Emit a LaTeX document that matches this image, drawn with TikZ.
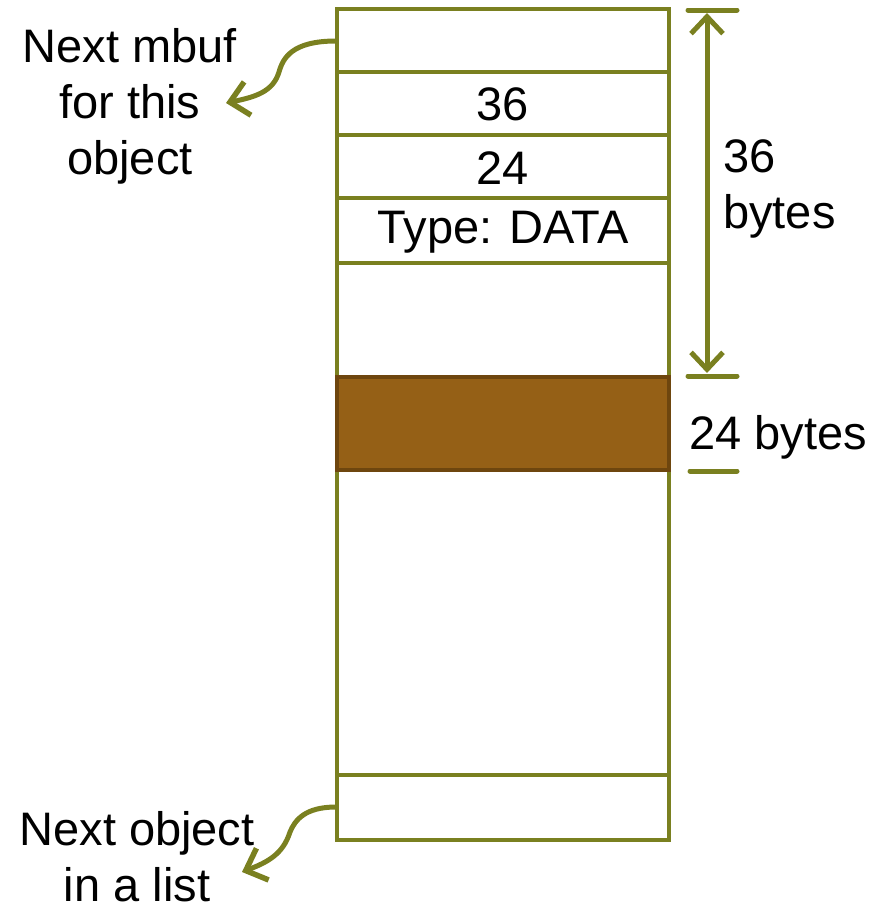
\documentclass[tikz,border=0pt]{standalone}
\usepackage{fontspec}
\setmainfont{Liberation Sans}
\usetikzlibrary{arrows.meta}
\definecolor{olive}{RGB}{122,128,32}
\definecolor{brownfill}{RGB}{149,96,22}
\definecolor{brownline}{RGB}{110,70,14}
\tikzset{
  wall/.style={draw=olive,line width=4pt},
  dim/.style={draw=olive,line width=5pt,line cap=round},
  barb/.tip={Straight Barb[length=17pt,width=32pt,line width=5pt]},
  cbarb/.tip={Straight Barb[length=18pt,width=34pt,line width=5.5pt]},
  curvy/.style={draw=olive,line width=5pt,-cbarb},
  lbl/.style={font=\fontsize{47}{56}\selectfont,align=center,inner sep=0pt,text=black},
}
\begin{document}
\begin{tikzpicture}[x=1pt,y=-1pt]
\useasboundingbox (0,0) rectangle (884,908);
% main box
\draw[wall] (337,9) rectangle (669,840);
\foreach \yy in {72,135,198,263,775} \draw[wall] (337,\yy) -- (669,\yy);
% brown
\draw[fill=brownfill,draw=brownline,line width=4pt] (337,377) rectangle (669,470);
% cell labels
\node[lbl] (c36) at (503,104) {36};
\node[lbl] (c24) at (503,168) {24};
\node[lbl] (ctype) at (503,232) {Type: DATA};
% left labels
\node[lbl] (nm) at (130,106) {Next mbuf\\for this\\object};
\node[lbl] (no) at (137,857) {Next object\\in a list};
\coordinate (s1) at (336,41);
\coordinate (t1) at (226,103);
\coordinate (s2) at (336,807);
\coordinate (t2) at (242,872);
\draw[curvy] (s1) .. controls (292,41) and (283,58) .. (279,72) .. controls (273,92) and (255,97) .. (t1);
\draw[curvy] (s2) .. controls (305,807) and (295,820) .. (290,832) .. controls (283,854) and (268,862) .. (t2);
% dimension
\coordinate (d1) at (688,10);
\coordinate (d2) at (737,10);
\coordinate (d3) at (688,376);
\coordinate (d4) at (737,376);
\coordinate (d5) at (690,471);
\coordinate (d6) at (737,471);
\coordinate (a1) at (707,13);
\coordinate (a2) at (707,373);
\draw[dim] (d1) -- (d2);
\draw[dim] (d3) -- (d4);
\draw[dim] (d5) -- (d6);
\draw[dim,barb-barb] (a1) -- (a2);
\node[lbl,align=left,anchor=west] (b36) at (723,189) {36\\bytes};
\node[lbl,anchor=west] (b24) at (689,437) {24 bytes};
\end{tikzpicture}
\end{document}
